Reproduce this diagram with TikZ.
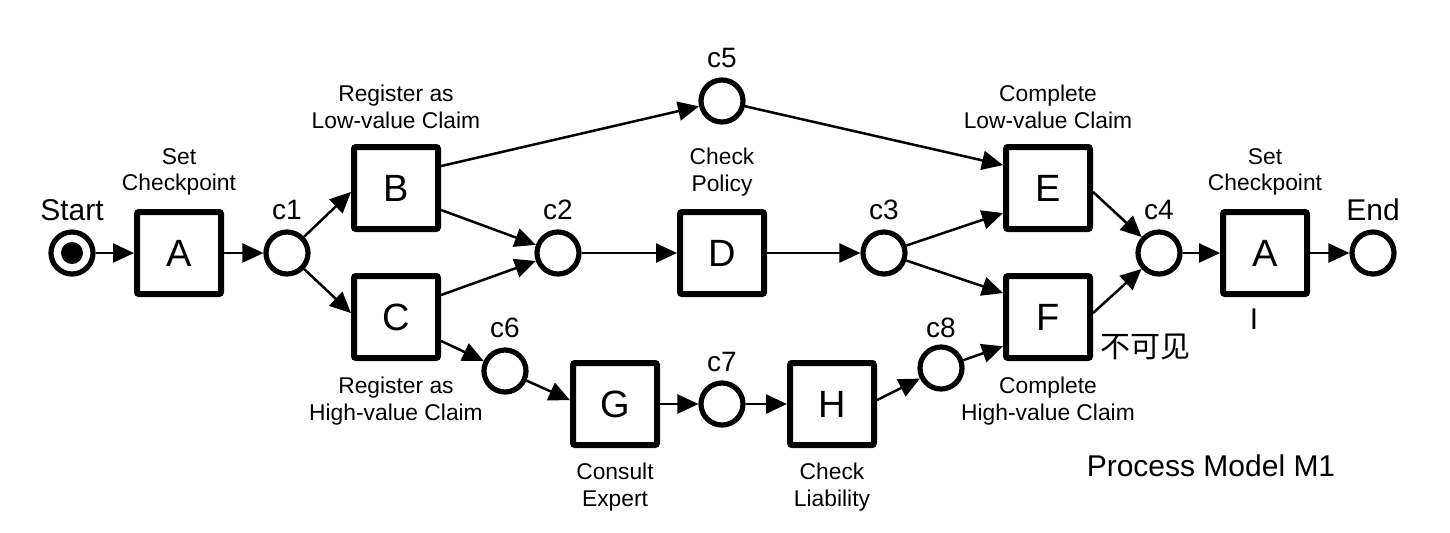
\documentclass[tikz,border=0pt]{standalone}
\usepackage{fontspec}
\setmainfont{Liberation Sans}
\newfontfamily\cjk{Noto Sans CJK SC}
\usetikzlibrary{arrows.meta}
\begin{document}
\begin{tikzpicture}[x=0.5pt,y=-0.5pt,
  trans/.style={draw,line width=3pt,minimum width=42pt,minimum height=41pt,inner sep=0pt,rounded corners=1pt,font=\fontsize{19}{22}\selectfont},
  place/.style={draw,circle,line width=2.6pt,minimum size=21pt,inner sep=0pt},
  lbl/.style={font=\fontsize{11.4}{13.2}\selectfont,align=center,inner sep=0pt},
  plbl/.style={font=\fontsize{14}{16}\selectfont,inner sep=0pt},
  big/.style={font=\fontsize{15}{18}\selectfont,inner sep=0pt},
  arr/.style={-{Triangle[length=10.5pt,width=9.5pt]},line width=1.25pt},
]
\useasboundingbox (0,0) rectangle (1450,532);
% places and transitions
\node[place,path picture={\fill (path picture bounding box.center) circle (5.5pt);}] (start) at (72,253) {};
\node[trans] (A1) at (179,253) {A};
\node[place] (c1) at (287,253) {};
\node[trans] (B) at (396,188) {B};
\node[trans] (C) at (396,317) {C};
\node[place] (c2) at (558,253) {};
\node[place] (c5) at (722,101) {};
\node[trans] (D) at (722,253) {D};
\node[place] (c3) at (884,253) {};
\node[trans] (E) at (1048,188) {E};
\node[trans] (F) at (1048,317) {F};
\node[place] (c4) at (1159,253) {};
\node[trans] (A2) at (1265,253) {A};
\node[place] (end) at (1373,253) {};
\node[place] (c6) at (505,371) {};
\node[trans] (G) at (615,404) {G};
\node[place] (c7) at (722,404) {};
\node[trans] (H) at (832,404) {H};
\node[place] (c8) at (941,368) {};
% arcs
\draw[arr] (start) -- (A1);
\draw[arr] (A1) -- (c1);
\draw[arr] (c1) -- (B.185);
\draw[arr] (c1) -- (C.175);
\draw[arr] (B.-26) -- (c2);
\draw[arr] (C.26) -- (c2);
\draw[arr] (B.26) -- (c5);
\draw[arr] (c5) -- (E.153);
\draw[arr] (c2) -- (D);
\draw[arr] (D) -- (c3);
\draw[arr] (c3) -- (E.209);
\draw[arr] (c3) -- (F.152);
\draw[arr] (E.-5) -- (c4);
\draw[arr] (F.5) -- (c4);
\draw[arr] (c4) -- (A2);
\draw[arr] (A2) -- (end);
\draw[arr] (C.-28) -- (c6);
\draw[arr] (c6) -- (G.175);
\draw[arr] (G) -- (c7);
\draw[arr] (c7) -- (H);
\draw[arr] (H.5) -- (c8);
\draw[arr] (c8) -- (F.213);
% labels
\node[big] (lstart) at (72,210) {Start};
\node[big] (lend) at (1373,210) {End};
\node[lbl] (lA1) at (179,172) {Set\\Checkpoint};
\node[lbl] (lA2) at (1265,172) {Set\\Checkpoint};
\node[lbl] (lB) at (396,107) {Register as\\Low-value Claim};
\node[lbl] (lC) at (396,401) {Register as\\High-value Claim};
\node[lbl] (lD) at (722,172) {Check\\Policy};
\node[lbl] (lE) at (1048,107) {Complete\\Low-value Claim};
\node[lbl] (lF) at (1048,401) {Complete\\High-value Claim};
\node[lbl] (lG) at (615,487) {Consult\\Expert};
\node[lbl] (lH) at (832,487) {Check\\Liability};
\node[plbl] (lc1) at (287,210) {c1};
\node[plbl] (lc2) at (558,210) {c2};
\node[plbl] (lc3) at (884,210) {c3};
\node[plbl] (lc4) at (1159,210) {c4};
\node[plbl] (lc5) at (722,58) {c5};
\node[plbl] (lc6) at (505,328) {c6};
\node[plbl] (lc7) at (722,362) {c7};
\node[plbl] (lc8) at (941,328) {c8};
\node[big] (inv) at (1145,347) {\cjk 不可见};
\node[big] (bar) at (1254,319) {I};
\node[big] (title) at (1211,466) {Process Model M1};
\end{tikzpicture}
\end{document}
